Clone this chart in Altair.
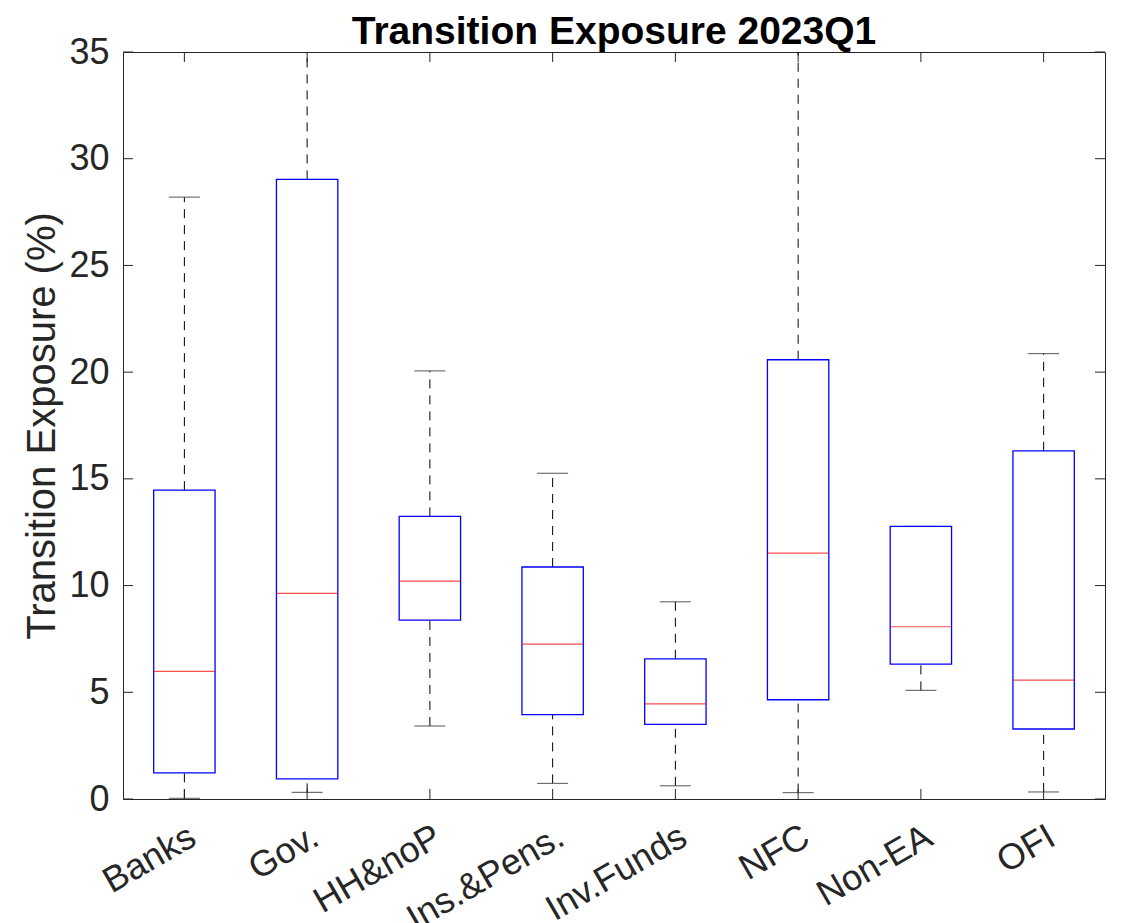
import altair as alt
import pandas as pd

categories = ["Banks", "Gov.", "HH&noP", "Ins.&Pens.", "Inv.Funds", "NFC", "Non-EA", "OFI"]
lower_whisker = [0.03, 0.31, 3.42, 0.73, 0.62, 0.30, 5.09, 0.33]
q1 = [1.22, 0.94, 8.38, 3.95, 3.50, 4.65, 6.32, 3.28]
median = [5.98, 9.63, 10.21, 7.26, 4.46, 11.52, 8.07, 5.57]
q3 = [14.47, 29.03, 13.24, 10.87, 6.57, 20.58, 12.77, 16.31]
upper_whisker = [28.20, 40.0, 20.06, 15.26, 9.24, 45.0, 12.77, 20.87]
y_ticks = [0, 5, 10, 15, 20, 25, 30, 35]

df = pd.DataFrame({
    "cat": categories, "lw": lower_whisker, "q1": q1,
    "med": median, "q3": q3, "uw": upper_whisker,
})
ticks_df = pd.DataFrame({"v": y_ticks})

W, H = 982, 747
FONT = "Liberation Sans"
DARK = "#262626"

xs = alt.Scale(domain=categories, paddingInner=0, paddingOuter=0)
ys = alt.Scale(domain=[0, 35], nice=False, zero=False)

x_enc = alt.X("cat:N", scale=xs, sort=categories, title=None,
              axis=alt.Axis(labelAngle=330, labelAlign="right", labelBaseline="top",
                            labelPadding=20, ticks=False, domain=False,
                            labelFont=FONT, labelFontSize=36, labelColor=DARK))
y_axis = alt.Axis(values=y_ticks, ticks=False, domain=False, grid=False,
                  labelFont=FONT, labelFontSize=36, labelColor=DARK, labelPadding=14,
                  title="Transition Exposure (%)", titleFont=FONT, titleFontSize=40,
                  titleFontWeight="normal", titleColor=DARK, titlePadding=6)

base = alt.Chart(df)

whisk_up = base.mark_rule(color="black", strokeWidth=1, strokeDash=[9, 7], clip=True).encode(
    x=x_enc, y=alt.Y("q3:Q", scale=ys, axis=y_axis), y2="uw:Q")
whisk_lo = base.mark_rule(color="black", strokeWidth=1, strokeDash=[9, 7], clip=True).encode(
    x=alt.X("cat:N", scale=xs, sort=categories), y=alt.Y("lw:Q", scale=ys), y2="q1:Q")
cap_up = base.mark_tick(color="#333333", size=31, thickness=1.2, orient="horizontal", clip=True).encode(
    x=alt.X("cat:N", scale=xs, sort=categories), y=alt.Y("uw:Q", scale=ys))
cap_lo = base.mark_tick(color="#333333", size=31, thickness=1.2, orient="horizontal", clip=True).encode(
    x=alt.X("cat:N", scale=xs, sort=categories), y=alt.Y("lw:Q", scale=ys))
box = base.mark_bar(fill="white", fillOpacity=0, stroke="#0000FF", strokeWidth=1.3,
                    width=alt.RelativeBandSize(0.5)).encode(
    x=alt.X("cat:N", scale=xs, sort=categories), y=alt.Y("q1:Q", scale=ys), y2="q3:Q")
med = base.mark_tick(color="#FF0000", size=61, thickness=1.2, orient="horizontal").encode(
    x=alt.X("cat:N", scale=xs, sort=categories), y=alt.Y("med:Q", scale=ys))

tick_len = 10
yt_left = alt.Chart(ticks_df).mark_rule(color=DARK, strokeWidth=1).encode(
    y=alt.Y("v:Q", scale=ys), x=alt.value(0), x2=alt.value(tick_len))
yt_right = alt.Chart(ticks_df).mark_rule(color=DARK, strokeWidth=1).encode(
    y=alt.Y("v:Q", scale=ys), x=alt.value(W - tick_len), x2=alt.value(W))
xt_bot = base.mark_rule(color=DARK, strokeWidth=1).encode(
    x=alt.X("cat:N", scale=xs, sort=categories), y=alt.value(H - tick_len), y2=alt.value(H))
xt_top = base.mark_rule(color=DARK, strokeWidth=1).encode(
    x=alt.X("cat:N", scale=xs, sort=categories), y=alt.value(0), y2=alt.value(tick_len))

chart = alt.layer(
    whisk_up, whisk_lo, cap_up, cap_lo, box, med, yt_left, yt_right, xt_bot, xt_top
).properties(
    width=W, height=H,
    background="white",
    title=alt.TitleParams("Transition Exposure 2023Q1", font=FONT, fontSize=39,
                          fontWeight="bold", color="black", offset=-18, anchor="middle"),
    autosize=alt.AutoSizeParams(type="none"),
    padding={"left": 115, "top": 44, "right": 12, "bottom": 130},
).configure_view(
    stroke=DARK, strokeWidth=1
)

chart.save("out.html", embed_options={"renderer": "svg", "actions": False})
